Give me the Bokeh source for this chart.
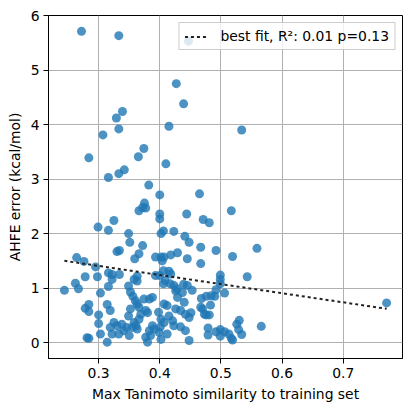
from bokeh.plotting import figure
from bokeh.models import Range1d, FixedTicker, Legend, LegendItem
from bokeh.embed import file_html
from bokeh.resources import INLINE

# Max Tanimoto similarity of each compound to the training set
similarity = [
    0.272, 0.333, 0.447, 0.427, 0.439, 0.339, 0.329, 0.333, 0.415, 0.307,
    0.534, 0.284, 0.374, 0.365, 0.410, 0.316, 0.333, 0.342, 0.382, 0.400,
    0.465, 0.517, 0.375, 0.372, 0.366, 0.377, 0.400, 0.400, 0.444, 0.471,
    0.481, 0.325, 0.299, 0.316, 0.349, 0.402, 0.406, 0.423, 0.441, 0.448,
    0.351, 0.372, 0.467, 0.492, 0.559, 0.330, 0.334, 0.366, 0.359, 0.393,
    0.402, 0.407, 0.404, 0.418, 0.429, 0.445, 0.467, 0.519, 0.264, 0.276,
    0.295, 0.298, 0.278, 0.316, 0.322, 0.322, 0.334, 0.262, 0.267, 0.244,
    0.316, 0.303, 0.363, 0.358, 0.363, 0.393, 0.400, 0.406, 0.415, 0.418,
    0.409, 0.406, 0.417, 0.423, 0.428, 0.426, 0.439, 0.445, 0.453, 0.499,
    0.499, 0.499, 0.543, 0.492, 0.506, 0.468, 0.476, 0.484, 0.490, 0.483,
    0.470, 0.473, 0.481, 0.476, 0.530, 0.526, 0.529, 0.534, 0.566, 0.479,
    0.479, 0.492, 0.499, 0.499, 0.513, 0.517, 0.519, 0.506, 0.771, 0.349,
    0.352, 0.356, 0.360, 0.363, 0.366, 0.284, 0.278, 0.284, 0.314, 0.319,
    0.300, 0.300, 0.325, 0.330, 0.338, 0.319, 0.322, 0.333, 0.341, 0.346,
    0.303, 0.284, 0.314, 0.352, 0.349, 0.374, 0.383, 0.388, 0.369, 0.377,
    0.380, 0.358, 0.361, 0.355, 0.363, 0.366, 0.350, 0.377, 0.380, 0.388,
    0.391, 0.383, 0.399, 0.385, 0.402, 0.407, 0.415, 0.421, 0.412, 0.423,
    0.407, 0.412, 0.426, 0.434, 0.442, 0.448, 0.451, 0.429, 0.440, 0.437,
    0.467, 0.442, 0.448, 0.402, 0.398, 0.434, 0.401, 0.281,
]

# Absolute hydration free energy error for each compound (kcal/mol)
ahfe_error = [
    5.71, 5.63, 5.53, 4.75, 4.38, 4.24, 4.12, 3.92, 3.97, 3.81,
    3.90, 3.39, 3.56, 3.41, 3.28, 3.03, 3.10, 3.17, 2.89, 2.71,
    2.73, 2.42, 2.56, 2.48, 2.42, 2.47, 2.36, 2.27, 2.36, 2.26,
    2.20, 2.24, 2.12, 2.06, 2.00, 2.00, 2.05, 2.04, 1.95, 1.84,
    1.84, 1.78, 1.75, 1.69, 1.73, 1.67, 1.69, 1.63, 1.54, 1.57,
    1.57, 1.57, 1.50, 1.61, 1.65, 1.54, 1.45, 1.58, 1.56, 1.49,
    1.39, 1.21, 1.21, 1.28, 1.25, 1.16, 1.25, 1.09, 0.99, 0.96,
    1.03, 0.91, 1.22, 1.16, 1.13, 1.23, 1.23, 1.32, 1.31, 1.26,
    1.14, 1.08, 1.08, 1.05, 0.99, 0.95, 1.07, 1.05, 0.96, 1.24,
    1.16, 1.08, 1.21, 0.97, 0.91, 0.81, 0.85, 0.86, 0.85, 0.69,
    0.62, 0.52, 0.51, 0.51, 0.41, 0.34, 0.24, 0.15, 0.30, 0.27,
    0.14, 0.20, 0.24, 0.12, 0.16, 0.08, 0.05, 0.20, 0.73, 1.04,
    0.93, 0.85, 0.77, 0.71, 0.65, 0.70, 0.63, 0.57, 0.70, 0.59,
    0.51, 0.35, 0.37, 0.31, 0.34, 0.28, 0.16, 0.16, 0.22, 0.28,
    0.16, 0.08, 0.01, 0.62, 0.49, 0.80, 0.80, 0.83, 0.52, 0.59,
    0.55, 0.37, 0.31, 0.28, 0.25, 0.43, 0.13, 0.10, 0.01, 0.31,
    0.25, 0.22, 0.19, 0.13, 0.43, 0.37, 0.49, 0.40, 0.16, 0.31,
    0.71, 0.68, 0.62, 0.59, 0.52, 0.46, 0.55, 0.83, 0.74, 0.92,
    0.65, 0.22, 0.04, 0.06, 0.56, 0.29, 0.29, 0.09,
]

# Linear fit of error against similarity
fit_slope = -1.67
fit_intercept = 1.909
fit_label = "best fit, R²: 0.01 p=0.13"

x_ticks = [0.3, 0.4, 0.5, 0.6, 0.7]
y_ticks = [0, 1, 2, 3, 4, 5, 6]

FONT = "DejaVu Sans"
FS = "13.9px"

p = figure(
    width=411, height=411,
    output_backend="svg", toolbar_location=None,
    x_range=Range1d(0.218, 0.797), y_range=Range1d(-0.29, 6.0),
    min_border_left=48, min_border_right=9,
    min_border_top=15, min_border_bottom=53,
)
p.background_fill_color = "white"
p.border_fill_color = "white"
p.outline_line_color = "black"
p.outline_line_width = 1
p.outline_line_alpha = 1

# Axes
p.xaxis.ticker = FixedTicker(ticks=x_ticks, minor_ticks=[])
p.yaxis.ticker = FixedTicker(ticks=y_ticks, minor_ticks=[])
p.xgrid.ticker = p.xaxis.ticker
p.ygrid.ticker = p.yaxis.ticker
p.grid.grid_line_color = "#b0b0b0"
p.grid.grid_line_width = 1
p.grid.grid_line_alpha = 1

p.xaxis.axis_label = "Max Tanimoto similarity to training set"
p.yaxis.axis_label = "AHFE error (kcal/mol)"
for ax in (p.xaxis, p.yaxis):
    ax.axis_label_text_font = FONT
    ax.axis_label_text_font_size = FS
    ax.axis_label_text_font_style = "normal"
    ax.axis_label_text_color = "black"
    ax.major_label_text_font = FONT
    ax.major_label_text_font_size = FS
    ax.major_label_text_color = "black"
    ax.axis_line_color = "black"
    ax.major_tick_line_color = "black"
    ax.major_tick_out = 5
    ax.major_tick_in = 0
    ax.minor_tick_out = 0
    ax.minor_tick_in = 0
    ax.major_label_standoff = 4
    ax.axis_label_standoff = 5

# Points
p.scatter(similarity, ahfe_error, size=9, fill_color="#1f77b4",
          fill_alpha=0.8, line_color=None)

# Best-fit line across the data's x span
x0, x1 = min(similarity), max(similarity)
fit_r = p.line([x0, x1], [fit_intercept + fit_slope * x0, fit_intercept + fit_slope * x1],
               line_color="#222222", line_alpha=1, line_width=2, line_dash="3 3")

legend = Legend(
    items=[LegendItem(label=fit_label, renderers=[fit_r])],
    location="top_right",
    label_text_font=FONT, label_text_font_size=FS, label_text_color="black",
    border_line_color="#cccccc", border_line_alpha=1,
    background_fill_color="white", background_fill_alpha=0.8,
    margin=7, padding=5, spacing=0,
    glyph_width=24, glyph_height=15, label_height=15, label_standoff=12,
)
p.add_layout(legend)

open("out.html", "w").write(file_html(p, INLINE))
